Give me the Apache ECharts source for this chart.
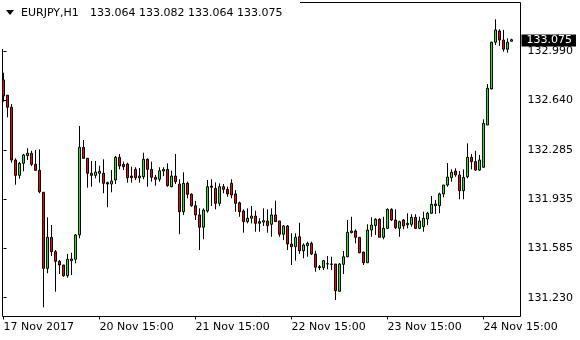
<!DOCTYPE html>
<html><head><meta charset="utf-8">
<script src="https://cdn.jsdelivr.net/npm/echarts/dist/echarts.min.js"></script>
<style>html,body{margin:0;padding:0;background:#fff}#c{width:580px;height:340px}</style>
</head><body><div id="c"></div>
<script>
const symbolName = 'EURJPY,H1';
const opens = [132.787,132.678,132.592,132.215,132.105,132.191,132.246,132.263,132.184,132.141,
131.984,131.440,131.662,131.559,131.490,131.464,131.387,131.495,131.505,131.679,
132.306,132.227,132.120,132.105,132.120,132.120,132.053,132.043,132.072,132.234,
132.184,132.186,132.100,132.148,132.088,132.095,132.220,132.148,132.091,132.077,
132.136,132.148,132.024,132.100,132.043,131.845,132.048,131.970,131.888,131.822,
131.734,131.850,132.029,132.012,131.905,132.024,132.005,132.048,131.972,131.909,
131.850,131.774,131.798,131.814,131.774,131.771,131.779,131.755,131.822,131.779,
131.684,131.743,131.614,131.595,131.666,131.566,131.602,131.619,131.543,131.452,
131.445,131.471,131.471,131.471,131.276,131.469,131.523,131.695,131.707,131.662,
131.557,131.480,131.714,131.746,131.791,131.662,131.726,131.862,131.786,131.726,
131.786,131.752,131.755,131.805,131.726,131.738,131.793,131.834,131.888,131.888,
131.972,132.036,132.088,132.136,132.108,131.995,132.095,132.234,132.203,132.143,
132.163,132.465,132.723,133.057,133.137,133.073,133.007,133.064];
const closes = [132.673,132.592,132.215,132.105,132.191,132.251,132.263,132.184,132.141,131.988,
131.440,131.662,131.559,131.490,131.464,131.387,131.505,131.507,131.679,132.306,
132.227,132.120,132.105,132.129,132.134,132.048,132.043,132.065,132.234,132.172,
132.167,132.088,132.088,132.088,132.100,132.220,132.148,132.091,132.077,132.138,
132.148,132.031,132.100,132.060,131.845,132.048,131.970,131.888,131.822,131.734,
131.857,132.024,132.020,131.905,132.024,132.005,131.972,131.965,131.905,131.845,
131.774,131.798,131.814,131.762,131.762,131.781,131.745,131.822,131.774,131.684,
131.743,131.614,131.595,131.662,131.566,131.607,131.619,131.543,131.448,131.445,
131.495,131.473,131.469,131.280,131.471,131.523,131.698,131.707,131.662,131.552,
131.480,131.714,131.750,131.791,131.662,131.726,131.862,131.786,131.731,131.774,
131.743,131.762,131.805,131.726,131.779,131.798,131.834,131.898,131.900,131.972,
132.036,132.093,132.127,132.108,131.995,132.091,132.234,132.203,132.143,132.215,
132.477,132.728,133.057,133.145,133.073,133.007,133.057,133.075];
const highs = [132.839,132.680,132.615,132.227,132.201,132.258,132.299,132.281,132.286,132.291,
131.984,131.805,131.750,131.571,131.500,131.464,131.543,131.552,131.686,132.458,
132.358,132.227,132.208,132.208,132.174,132.220,132.060,132.143,132.243,132.258,
132.203,132.196,132.167,132.163,132.158,132.267,132.227,132.203,132.108,132.163,
132.163,132.191,132.138,132.258,132.077,132.127,132.060,131.977,131.922,131.869,
131.869,132.072,132.077,132.055,132.048,132.043,132.024,132.077,132.000,131.917,
131.862,131.869,131.886,131.852,131.798,131.869,131.862,131.869,131.924,131.779,
131.750,131.750,131.691,131.691,131.766,131.619,131.631,131.631,131.566,131.464,
131.500,131.528,131.523,131.471,131.478,131.564,131.786,131.809,131.719,131.662,
131.557,131.755,131.805,131.798,131.798,131.809,131.869,131.869,131.862,131.781,
131.793,131.834,131.827,131.827,131.809,131.845,131.845,131.957,131.929,131.981,
132.036,132.193,132.148,132.155,132.136,132.148,132.334,132.258,132.281,132.251,
132.506,132.758,133.061,133.221,133.150,133.145,133.085,133.082];
const lows = [132.632,132.520,132.196,132.038,132.081,132.134,132.215,132.172,132.141,131.977,
131.161,131.405,131.528,131.273,131.400,131.380,131.373,131.392,131.476,131.655,
132.227,132.017,132.024,132.084,132.053,131.977,131.877,131.984,132.043,132.148,
132.143,132.053,132.053,132.072,132.053,132.077,132.024,132.060,132.031,132.060,
132.100,132.024,132.020,132.043,131.684,131.822,131.941,131.881,131.786,131.571,
131.648,131.838,131.886,131.862,131.886,131.977,131.952,131.941,131.845,131.809,
131.695,131.762,131.762,131.702,131.702,131.743,131.695,131.666,131.774,131.666,
131.643,131.571,131.464,131.495,131.543,131.512,131.523,131.535,131.416,131.428,
131.428,131.433,131.428,131.214,131.273,131.400,131.519,131.691,131.619,131.548,
131.464,131.480,131.666,131.679,131.662,131.648,131.721,131.779,131.721,131.666,
131.719,131.726,131.738,131.721,131.721,131.702,131.750,131.829,131.829,131.834,
131.948,132.024,132.060,132.095,131.934,131.934,132.084,132.148,132.138,132.138,
132.160,132.465,132.720,133.037,133.030,132.989,132.982,133.064];
const tickIndex = [0, 24, 48, 72, 96, 120];
const tickLabels = ['17 Nov 2017', '20 Nov 15:00', '21 Nov 15:00', '22 Nov 15:00', '23 Nov 15:00', '24 Nov 15:00'];
const priceTicks = [131.230, 131.585, 131.935, 132.285, 132.640, 132.990];

const FONT = 'DejaVu Sans';
const data = opens.map((o, i) => [i, o, closes[i], lows[i], highs[i]]);
const last = closes.length - 1;
const ohlcText = [opens[last], highs[last], lows[last], closes[last]].map(v => v.toFixed(3)).join(' ');

const chart = echarts.init(document.getElementById('c'), null, {renderer: 'canvas'});
chart.setOption({
  animation: false,
  backgroundColor: '#fff',
  grid: {left: 2.5, top: 2.5, width: 518, height: 314, show: true, borderColor: '#000', borderWidth: 1, backgroundColor: 'transparent'},
  xAxis: {
    type: 'value', min: -0.25, max: 129.25,
    axisLine: {show: false}, splitLine: {show: false},
    axisTick: {show: true, customValues: tickIndex, length: 3, lineStyle: {color: '#000'}},
    axisLabel: {customValues: tickIndex, align: 'left', margin: 5, color: '#000', fontFamily: FONT, fontSize: 11,
      formatter: v => tickLabels[tickIndex.indexOf(Math.round(v))]}
  },
  yAxis: {
    type: 'value', position: 'right', min: 131.0957, max: 133.3412,
    axisLine: {show: false}, splitLine: {show: false},
    axisTick: {show: true, customValues: priceTicks, length: 3, lineStyle: {color: '#000'}},
    axisLabel: {customValues: priceTicks, margin: 7, color: '#000', fontFamily: FONT, fontSize: 11,
      formatter: v => v.toFixed(3)}
  },
  series: [{
    type: 'candlestick', data: data, barWidth: 3,
    itemStyle: {color: '#00ff00', color0: '#ff0000', borderColor: '#000', borderColor0: '#000', borderWidth: 1},
    markLine: {
      silent: true, symbol: 'none', animation: false,
      lineStyle: {color: 'rgba(0,0,0,0)', width: 1, type: 'solid'},
      label: {show: true, position: 'end', distance: 1, formatter: () => closes[last].toFixed(3),
        backgroundColor: '#000', color: '#fff', fontFamily: FONT, fontSize: 11, padding: [1, 4, 0, 5]},
      data: [{yAxis: closes[last]}]
    }
  }],
  graphic: [
    {type: 'rect', left: 0, top: 0, shape: {width: 300, height: 49}, style: {fill: '#fff'}, z: 50},
    {type: 'polygon', shape: {points: [[6, 10], [14, 10], [10, 15]]}, style: {fill: '#000'}, z: 51},
    {type: 'text', x: 21, y: 13, style: {text: symbolName, fill: '#000', font: '11px "DejaVu Sans"', verticalAlign: 'middle'}, z: 51},
    {type: 'text', x: 90, y: 13, style: {text: ohlcText, fill: '#000', font: '11px "DejaVu Sans"', verticalAlign: 'middle'}, z: 51}
  ]
});
</script></body></html>
